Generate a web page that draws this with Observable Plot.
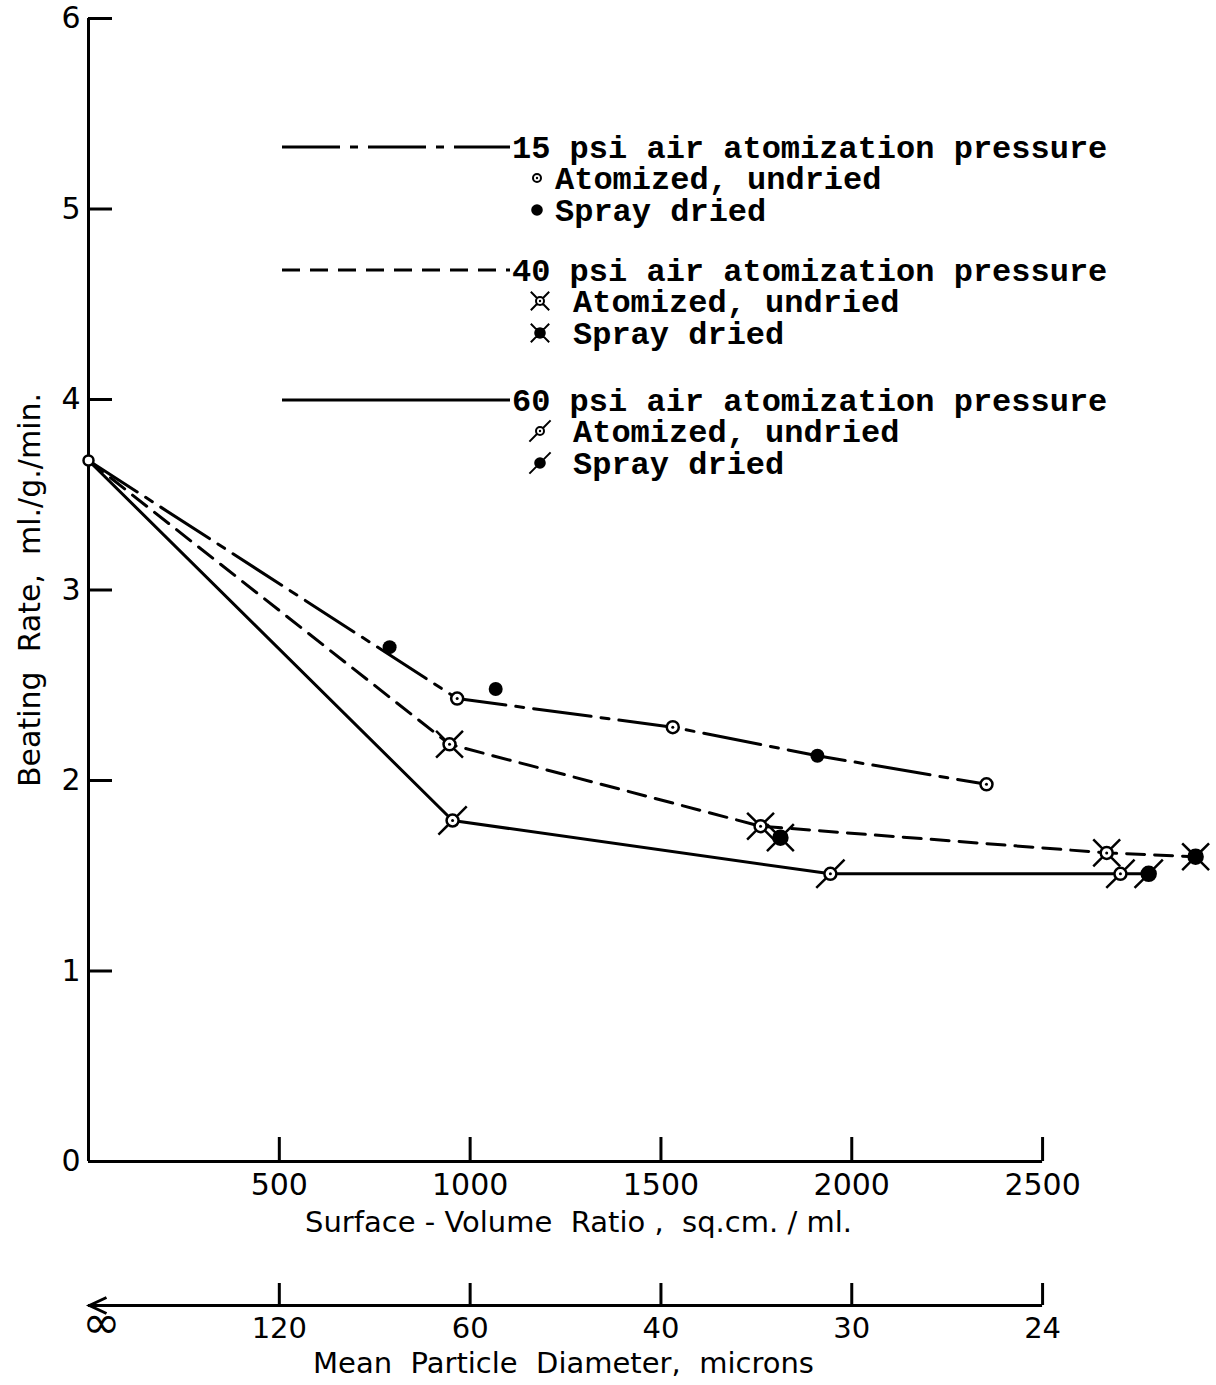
<!DOCTYPE html>
<html><head><meta charset="utf-8">
<script src="https://cdn.jsdelivr.net/npm/d3@7"></script>
<script src="https://cdn.jsdelivr.net/npm/@observablehq/plot@0.6"></script>
<style>
body{margin:0;background:#fff;}
#wrap{position:relative;width:1216px;height:1385px;}
#legend{position:absolute;left:0;top:0;pointer-events:none;}
</style></head><body><div id="wrap"></div>
<script>
// ---- data (surface-volume ratio, sq.cm./ml ; beating rate, ml./g./min.) ----
const originSV = [0];
const originRate = [3.68];

const line15SV = [0, 966, 1531, 1910, 2353];
const line15Rate = [3.68, 2.43, 2.28, 2.13, 1.98];
const undried15SV = [966, 1531, 2353];
const undried15Rate = [2.43, 2.28, 1.98];
const dried15SV = [789, 1067, 1910];
const dried15Rate = [2.70, 2.48, 2.13];

const line40SV = [0, 946, 1761, 2668, 2901];
const line40Rate = [3.68, 2.19, 1.76, 1.62, 1.60];
const undried40SV = [946, 1761, 2668];
const undried40Rate = [2.19, 1.76, 1.62];
const dried40SV = [1813, 2901];
const dried40Rate = [1.70, 1.60];

const line60SV = [0, 954, 1944, 2704, 2778];
const line60Rate = [3.68, 1.79, 1.51, 1.51, 1.51];
const undried60SV = [954, 1944, 2704];
const undried60Rate = [1.79, 1.51, 1.51];
const dried60SV = [2778];
const dried60Rate = [1.51];

const yTicks = [0, 1, 2, 3, 4, 5, 6];
const svTicks = [500, 1000, 1500, 2000, 2500];
const diamTickSV = [0, 500, 1000, 1500, 2000, 2500];
const diamLabels = ["∞", "120", "60", "40", "30", "24"];

const yTitle = "Beating\u00A0 Rate,\u00A0 ml./g./min.";
const xTitle = "Surface - Volume\u00A0 Ratio ,\u00A0 sq.cm. / ml.";
const x2Title = "Mean\u00A0 Particle\u00A0 Diameter,\u00A0 microns";

const legendTitles = ["15 psi air atomization pressure", "40 psi air atomization pressure", "60 psi air atomization pressure"];
const legendItems = ["Atomized, undried", "Spray dried"];

const toPts = (xs, ys) => xs.map((x, i) => ({sv: x, rate: ys[i]}));

// ---- marker shapes ----
function drawMarker(ctx, r, kind, L) {
  ctx.moveTo(r, 0);
  ctx.arc(0, 0, r, 0, 2 * Math.PI);
  const c = Math.SQRT1_2;
  if (kind === "x") {
    for (const [sx, sy] of [[1,1],[1,-1],[-1,1],[-1,-1]]) {
      ctx.moveTo(sx * r * c, sy * r * c);
      ctx.lineTo(sx * L * c, sy * L * c);
    }
  } else if (kind === "slash") {
    for (const [sx, sy] of [[1,-1],[-1,1]]) {
      ctx.moveTo(sx * r * c, sy * r * c);
      ctx.lineTo(sx * L * c, sy * L * c);
    }
  }
}
const sym = (kind, L) => ({draw(ctx, size) { drawMarker(ctx, Math.sqrt(size / Math.PI), kind, L); }});
const arrowSym = {draw(ctx) { ctx.moveTo(18, -8); ctx.lineTo(1, 0); ctx.lineTo(18, 8); }};

const dash15 = "58,10,8,10";
const dash40 = "18,10";

const chart = Plot.plot({
  width: 1216, height: 1385,
  marginLeft: 88, marginRight: 6, marginTop: 18, marginBottom: 224,
  style: {fontFamily: "DejaVu Sans", background: "white", color: "black"},
  x: {domain: [0, 2940]},
  y: {domain: [0, 6]},
  marks: [
    Plot.axisY(yTicks, {anchor: "left", tickSize: -24, tickPadding: 32, fontSize: 30, strokeWidth: 3, label: null, tickFormat: d => String(d)}),
    Plot.axisX(svTicks, {anchor: "bottom", tickSize: -24, tickPadding: 36, fontSize: 30, strokeWidth: 3, label: null, tickFormat: d => String(d)}),
    Plot.ruleX([0], {y1: 0, y2: 6, strokeWidth: 3}),
    Plot.ruleY([0], {x1: 0, x2: 2500, strokeWidth: 3}),
    // secondary axis: mean particle diameter
    Plot.ruleY([0], {x1: 0, x2: 2500, dy: 144, strokeWidth: 3}),
    Plot.dot([0], {x: d => d, frameAnchor: "bottom", dy: 144, symbol: arrowSym, r: 5, stroke: "black", fill: "none", strokeWidth: 3}),
    Plot.axisX(diamTickSV.slice(1), {anchor: "bottom", dy: 144, tickSize: -22, tickPadding: 34, fontSize: 29, strokeWidth: 3, label: null,
      tickFormat: d => diamLabels[diamTickSV.indexOf(d)]}),
    Plot.text([diamLabels[0]], {x: diamTickSV[0], frameAnchor: "bottom", dy: 176, dx: 13, fontSize: 46}),
    // titles
    Plot.text([yTitle], {frameAnchor: "left", textAnchor: "middle", dx: -58, rotate: -90, fontSize: 30}),
    Plot.text([xTitle], {frameAnchor: "bottom", dx: -71, dy: 70, fontSize: 29}),
    Plot.text([x2Title], {frameAnchor: "bottom", dx: -86, dy: 211, fontSize: 29}),
    // lines
    Plot.line(toPts(line15SV, line15Rate), {x: "sv", y: "rate", strokeWidth: 3, strokeDasharray: dash15}),
    Plot.line(toPts(line40SV, line40Rate), {x: "sv", y: "rate", strokeWidth: 3, strokeDasharray: dash40}),
    Plot.line(toPts(line60SV, line60Rate), {x: "sv", y: "rate", strokeWidth: 3}),
    // markers
    Plot.dot(toPts(undried15SV, undried15Rate), {x: "sv", y: "rate", r: 6, stroke: "black", strokeWidth: 2.5, fill: "white"}),
    Plot.dot(toPts(dried15SV, dried15Rate), {x: "sv", y: "rate", r: 7, fill: "black"}),
    Plot.dot(toPts(undried40SV, undried40Rate), {x: "sv", y: "rate", r: 6, symbol: sym("x", 19), stroke: "black", strokeWidth: 2.5, fill: "white"}),
    Plot.dot(toPts(dried40SV, dried40Rate), {x: "sv", y: "rate", r: 7, symbol: sym("x", 19), stroke: "black", strokeWidth: 2.5, fill: "black"}),
    Plot.dot(toPts(undried60SV, undried60Rate), {x: "sv", y: "rate", r: 6, symbol: sym("slash", 20), stroke: "black", strokeWidth: 2.5, fill: "white"}),
    Plot.dot(toPts(dried60SV, dried60Rate), {x: "sv", y: "rate", r: 7, symbol: sym("slash", 20), stroke: "black", strokeWidth: 2.5, fill: "black"}),
    Plot.dot(toPts([...undried15SV, ...undried40SV, ...undried60SV], [...undried15Rate, ...undried40Rate, ...undried60Rate]), {x: "sv", y: "rate", r: 1.5, fill: "black"}),
    Plot.dot(toPts(originSV, originRate), {x: "sv", y: "rate", r: 5, stroke: "black", strokeWidth: 2.5, fill: "white"})
  ]
});
document.getElementById("wrap").appendChild(chart);

// ---- legend overlay ----
const lg = d3.select("#wrap").append("svg").attr("id", "legend").attr("width", 1216).attr("height", 1385);
const groups = [
  {y: 147, dash: dash15, kind: "circle", mx: 537, tx: 555},
  {y: 270, dash: dash40, kind: "x", mx: 540, tx: 573},
  {y: 400, dash: null, kind: "slash", mx: 540, tx: 573}
];
const font = "'Liberation Mono', 'DejaVu Sans Mono', monospace";
groups.forEach((g, gi) => {
  lg.append("line").attr("x1", 282).attr("x2", 510).attr("y1", g.y).attr("y2", g.y)
    .attr("stroke", "black").attr("stroke-width", 3).attr("stroke-dasharray", g.dash);
  lg.append("text").attr("x", 512).attr("y", g.y).attr("dy", "0.35em")
    .attr("font-family", font).attr("font-weight", "bold").attr("font-size", 32).text(legendTitles[gi]);
  legendItems.forEach((t, ti) => {
    const yy = g.y + 31 + ti * 32;
    const p = d3.path();
    const L = g.kind === "x" ? 13 : g.kind === "slash" ? 15 : 0;
    drawMarker(p, ti === 0 ? 4 : 4.8, g.kind, L);
    lg.append("path").attr("transform", `translate(${g.mx},${yy})`).attr("d", p.toString())
      .attr("stroke", "black").attr("stroke-width", 2).attr("fill", ti === 0 ? "white" : "black");
    if (ti === 0) lg.append("circle").attr("cx", g.mx).attr("cy", yy).attr("r", 1.2).attr("fill", "black");
    lg.append("text").attr("x", g.tx).attr("y", yy).attr("dy", "0.35em")
      .attr("font-family", font).attr("font-weight", "bold").attr("font-size", 32).text(t);
  });
});
</script></body></html>
